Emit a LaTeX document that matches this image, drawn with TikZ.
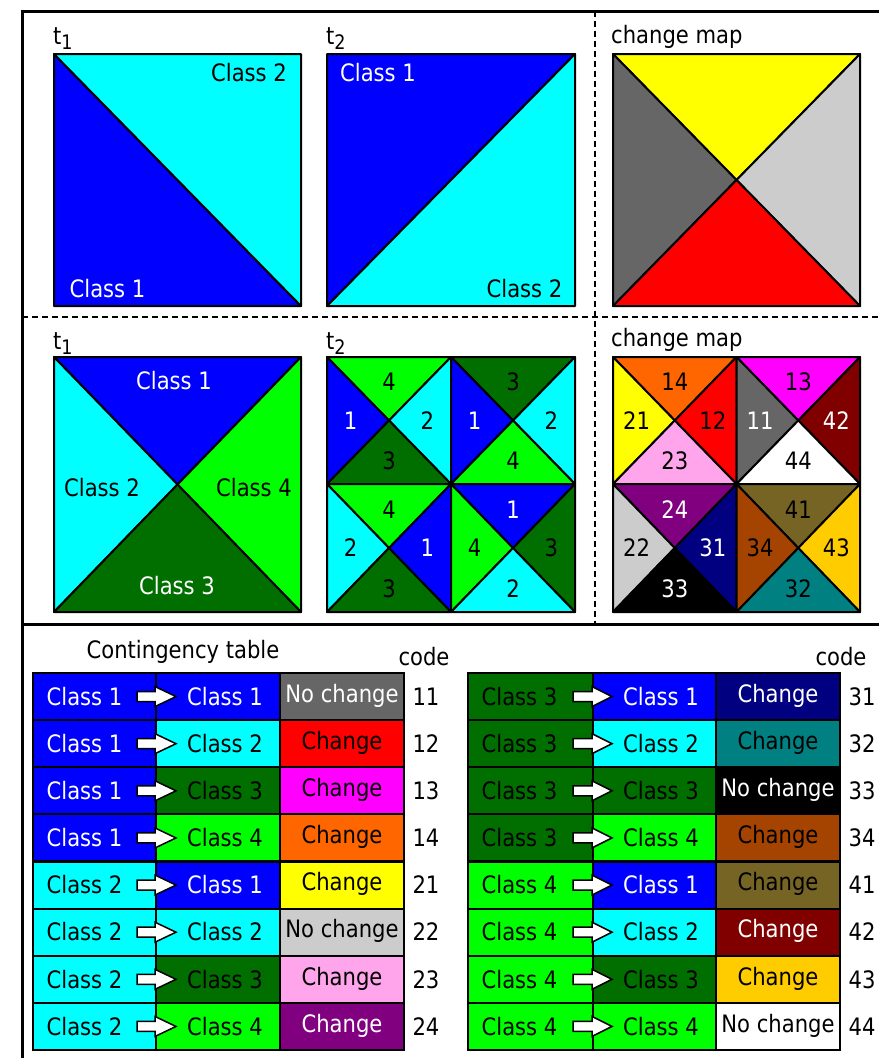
\documentclass[tikz,border=0pt]{standalone}
\usepackage{fontspec}
\setmainfont[FakeStretch=0.88]{DejaVu Sans}
\definecolor{col1}{HTML}{0000FF}
\definecolor{col2}{HTML}{00FFFF}
\definecolor{col3}{HTML}{006F00}
\definecolor{col4}{HTML}{00FF00}
\definecolor{tx1}{HTML}{FFFFFF}
\definecolor{tx2}{HTML}{000000}
\definecolor{tx3}{HTML}{000000}
\definecolor{tx4}{HTML}{000000}
\definecolor{cgrayd}{HTML}{666666}
\definecolor{cgrayl}{HTML}{CCCCCC}
\definecolor{cred}{HTML}{FF0000}
\definecolor{cyel}{HTML}{FFFF00}
\definecolor{cmag}{HTML}{FF00FF}
\definecolor{corange}{HTML}{FF6600}
\definecolor{cpink}{HTML}{FFA5EB}
\definecolor{cpurple}{HTML}{800080}
\definecolor{cnavy}{HTML}{000080}
\definecolor{cteal}{HTML}{008080}
\definecolor{cbrown}{HTML}{A54400}
\definecolor{colive}{HTML}{766425}
\definecolor{cmaroon}{HTML}{800000}
\definecolor{cgold}{HTML}{FFCC00}
\definecolor{cwhite}{HTML}{FFFFFF}
\definecolor{cblack}{HTML}{000000}
\tikzset{
  tri/.style={draw=black, line width=2pt, line join=round},
  cell/.style={draw=black, line width=2pt, minimum height=47pt, inner sep=0pt, outer sep=0pt, text height=17.5pt, text depth=0pt},
  chgcell/.style={cell, text depth=6pt},
  barrow/.style={draw=black, fill=white, line width=1.5pt, line join=miter},
  lbl/.style={inner sep=0pt, anchor=base},
  lblw/.style={inner sep=0pt, anchor=base west},
  num/.style={inner sep=0pt},
  frame/.style={line width=3pt},
  dsh/.style={line width=2pt, dash pattern=on 6pt off 4pt},
}
% crossed square: x0 y0 x1 y1 top left right bottom
\newcommand\xcross[8]{%
  \pgfmathsetmacro\qxm{(#1+#3)/2}\pgfmathsetmacro\qym{(#2+#4)/2}%
  \filldraw[tri,fill=#5] (#1,#2)--(#3,#2)--(\qxm,\qym)--cycle;
  \filldraw[tri,fill=#6] (#1,#2)--(#1,#4)--(\qxm,\qym)--cycle;
  \filldraw[tri,fill=#7] (#3,#2)--(#3,#4)--(\qxm,\qym)--cycle;
  \filldraw[tri,fill=#8] (#1,#4)--(#3,#4)--(\qxm,\qym)--cycle;
}
% labels: name x0 y0 x1 y1 top left right bottom
\newcommand\xlab[9]{%
  \pgfmathsetmacro\qxm{(#2+#4)/2}\pgfmathsetmacro\qym{(#3+#5)/2}%
  \pgfmathsetmacro\qdx{(#4-#2)/6}\pgfmathsetmacro\qdy{(#5-#3)/6}%
  \node[num] (#1t) at (\qxm,#3+\qdy+4) {#6};
  \node[num] (#1l) at (#2+\qdx+3,\qym) {#7};
  \node[num] (#1r) at (#4-\qdx-3,\qym) {#8};
  \node[num] (#1b) at (\qxm,#5-\qdy-2) {#9};
}
\newcommand\tsub[1]{t\raisebox{-5pt}{\fontsize{20}{20}\selectfont #1}}
\begin{document}
\begin{tikzpicture}[x=1pt,y=-1pt,font=\fontsize{24}{28}\selectfont]
\useasboundingbox (0,0) rectangle (879,1058);

% ---------- frame ----------
\draw[frame] (20.5,11) -- (879,11);
\draw[frame] (22,9.5) -- (22,1058);
\draw[frame] (22,624) -- (879,624);
\draw[dsh] (22,317) -- (879,317);
\draw[dsh] (595,11) -- (595,624);

% ---------- top row ----------
\node[lblw] (ta1) at (53,44) {\tsub{1}};
\node[lblw] (ta2) at (326,44) {\tsub{2}};
\node[lblw] (tacm) at (611,43) {change map};

\filldraw[tri,fill=col1] (54,54)--(54,306)--(301,306)--cycle;
\filldraw[tri,fill=col2] (54,54)--(301,54)--(301,306)--cycle;
\node[lbl] (a1c2) at (249,81) {Class 2};
\node[lbl,text=white] (a1c1) at (107.5,297) {Class 1};

\filldraw[tri,fill=col1] (327,306)--(327,54)--(575,54)--cycle;
\filldraw[tri,fill=col2] (327,306)--(575,306)--(575,54)--cycle;
\node[lbl,text=white] (a2c1) at (378,81) {Class 1};
\node[lbl] (a2c2) at (524.5,297) {Class 2};

\xcross{613}{54}{860}{306}{cyel}{cgrayd}{cgrayl}{cred}

% ---------- middle row ----------
\node[lblw] (tb1) at (53,349) {\tsub{1}};
\node[lblw] (tb2) at (326,349) {\tsub{2}};
\node[lblw] (tbcm) at (611,346) {change map};

\xcross{54}{357}{301}{612}{col1}{col2}{col4}{col3}
\node[lbl,text=white] (b1c1) at (174,389) {Class 1};
\node[lbl] (b1c2) at (102,496) {Class 2};
\node[lbl] (b1c4) at (254,496) {Class 4};
\node[lbl,text=white] (b1c3) at (177,594) {Class 3};

\xcross{327}{357}{451}{484}{col4}{col1}{col2}{col3}
\xcross{451}{357}{575}{484}{col3}{col1}{col2}{col4}
\xcross{327}{484}{451}{612}{col4}{col2}{col1}{col3}
\xcross{451}{484}{575}{612}{col1}{col4}{col3}{col2}
\xlab{qa}{327}{357}{451}{484}{4}{\color{white}1}{2}{3}
\xlab{qb}{451}{357}{575}{484}{3}{\color{white}1}{2}{4}
\xlab{qc}{327}{484}{451}{612}{4}{2}{\color{white}1}{3}
\xlab{qd}{451}{484}{575}{612}{\color{white}1}{4}{3}{2}

\xcross{613}{357}{736.5}{484}{corange}{cyel}{cred}{cpink}
\xcross{736.5}{357}{860}{484}{cmag}{cgrayd}{cmaroon}{cwhite}
\xcross{613}{484}{736.5}{612}{cpurple}{cgrayl}{cnavy}{cblack}
\xcross{736.5}{484}{860}{612}{colive}{cbrown}{cgold}{cteal}
\xlab{ma}{613}{357}{736.5}{484}{14}{21}{12}{23}
\xlab{mb}{736.5}{357}{860}{484}{13}{\color{white}11}{\color{white}42}{44}
\xlab{mc}{613}{484}{736.5}{612}{\color{white}24}{22}{\color{white}31}{\color{white}33}
\xlab{md}{736.5}{484}{860}{612}{41}{34}{43}{32}

% ---------- contingency table ----------
\node[lbl] (ctitle) at (183,658) {Contingency table};
\node[lbl] (codeL) at (424,665) {code};
\node[lbl] (codeR) at (841,665) {code};

\foreach \r/\f/\t/\cc/\ct/\chg/\code in {
  0/1/1/cgrayd/white/No change/11,
  1/1/2/cred/black/Change/12,
  2/1/3/cmag/black/Change/13,
  3/1/4/corange/black/Change/14,
  4/2/1/cyel/black/Change/21,
  5/2/2/cgrayl/black/No change/22,
  6/2/3/cpink/black/Change/23,
  7/2/4/cpurple/white/Change/24}{
  \pgfmathsetmacro\yy{673+47.125*(\r+0.5)}
  \node[cell, fill=col\f, text=tx\f, minimum width=123pt] (La\r) at (94.5,\yy) {Class \f\kern20pt};
  \node[cell, fill=col\t, text=tx\t, minimum width=124pt] (Lb\r) at (218,\yy) {\kern14pt Class \t};
  \node[chgcell, fill=\cc, text=\ct, minimum width=124pt] (Lc\r) at (342,\yy) {\chg};
  \node[cell, draw=none] (Ld\r) at (426,\yy) {\code};
  \begin{scope}[shift={(La\r.east)}]
    \draw[barrow] (-19,-5)--(-1,-5)--(-1,-10)--(20,0)--(-1,10)--(-1,5)--(-19,5)--cycle;
  \end{scope}
}
\foreach \r/\f/\t/\cc/\ct/\chg/\code in {
  0/3/1/cnavy/white/Change/31,
  1/3/2/cteal/black/Change/32,
  2/3/3/cblack/white/No change/33,
  3/3/4/cbrown/black/Change/34,
  4/4/1/colive/black/Change/41,
  5/4/2/cmaroon/white/Change/42,
  6/4/3/cgold/black/Change/43,
  7/4/4/cwhite/black/No change/44}{
  \pgfmathsetmacro\yy{673+47.125*(\r+0.5)}
  \node[cell, fill=col\f, text=tx\f, minimum width=125pt] (Ra\r) at (530.5,\yy) {Class \f\kern22pt};
  \node[cell, fill=col\t, text=tx\t, minimum width=123pt] (Rb\r) at (654.5,\yy) {\kern13pt Class \t};
  \node[chgcell, fill=\cc, text=\ct, minimum width=124pt] (Rc\r) at (778,\yy) {\chg};
  \node[cell, draw=none] (Rd\r) at (862,\yy) {\code};
  \begin{scope}[shift={(Ra\r.east)}]
    \draw[barrow] (-20,-5)--(-1,-5)--(-1,-10)--(19,0)--(-1,10)--(-1,5)--(-20,5)--cycle;
  \end{scope}
}
\end{tikzpicture}
\end{document}
